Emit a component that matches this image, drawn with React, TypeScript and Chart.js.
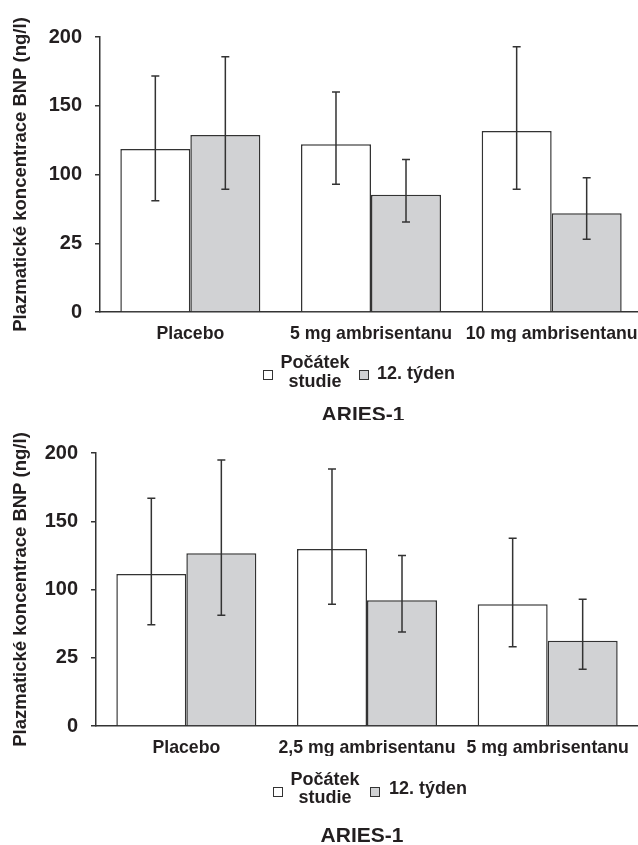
import React, { useEffect, useRef } from 'react';
import { Chart, registerables } from 'chart.js';

Chart.register(...registerables);

// ---- shared labels ----
const yTickValues = [0, 50, 100, 150, 200];
const yTickLabels = ['0', '25', '100', '150', '200'];
const yTitle = 'Plazmatické koncentrace BNP (ng/l)';
const seriesBaselineLabel = ['Počátek', 'studie'];
const seriesWeek12Label = '12. týden';
const panelTitle = 'ARIES-1';

// ---- panel 1 ----
const categories1 = ['Placebo', '5 mg ambrisentanu', '10 mg ambrisentanu'];
const baseline1 = [118.5, 122, 131.6];
const week12_1 = [128.7, 85.3, 71.8];
const baselineHi1 = [171.6, 160, 193];
const baselineLo1 = [81, 93, 89.2];
const week12Hi1 = [185.7, 111, 97.7];
const week12Lo1 = [89.2, 65.5, 53];

// ---- panel 2 ----
const categories2 = ['Placebo', '2,5 mg ambrisentanu', '5 mg ambrisentanu'];
const baseline2 = [111.4, 129.7, 89.2];
const week12_2 = [126.6, 92.2, 62.4];
const baselineHi2 = [166.8, 188.2, 137.5];
const baselineLo2 = [74.1, 89.2, 58];
const week12Hi2 = [194.8, 124.9, 92.9];
const week12Lo2 = [81.2, 68.8, 41.5];

const FONT = '"Liberation Sans", Arial, Helvetica, sans-serif';
const INK = '#231f20';
const LINE = '#333333';
const GRAY = '#d1d2d4';

type PanelProps = {
  top: number;
  height: number;
  axisLeft: number;
  areaTop: number;
  areaBottom: number;
  padRight: number;
  categories: string[];
  base: number[];
  week: number[];
  baseHi: number[];
  baseLo: number[];
  weekHi: number[];
  weekLo: number[];
  legend: { box1X: number; text1X: number; box2X: number; text2X: number; line1Y: number; line2Y: number; boxY: number; text2Y: number; titleX: number; titleY: number };
};

function Panel(p: PanelProps) {
  const ref = useRef<HTMLCanvasElement | null>(null);
  useEffect(() => {
    const canvas = ref.current!;
    const his = [p.baseHi, p.weekHi];
    const los = [p.baseLo, p.weekLo];
    const errorBars = {
      id: 'errorBars',
      afterDatasetsDraw(chart: any) {
        const ctx = chart.ctx;
        const ys = chart.scales.y;
        ctx.save();
        ctx.strokeStyle = LINE;
        ctx.lineWidth = 1.5;
        chart.data.datasets.forEach((_: any, i: number) => {
          const meta = chart.getDatasetMeta(i);
          meta.data.forEach((el: any, j: number) => {
            const x = el.x;
            const yh = ys.getPixelForValue(his[i][j]);
            const yl = ys.getPixelForValue(los[i][j]);
            ctx.beginPath();
            ctx.moveTo(x, yh);
            ctx.lineTo(x, yl);
            ctx.moveTo(x - 4, yh);
            ctx.lineTo(x + 4, yh);
            ctx.moveTo(x - 4, yl);
            ctx.lineTo(x + 4, yl);
            ctx.stroke();
          });
        });
        ctx.restore();
      },
    };
    const L = p.legend;
    const legendTitle = {
      id: 'legendTitle',
      afterDraw(chart: any) {
        const ctx = chart.ctx;
        ctx.save();
        ctx.fillStyle = INK;
        ctx.textBaseline = 'middle';
        ctx.font = `bold 18px ${FONT}`;
        ctx.textAlign = 'center';
        ctx.fillText(seriesBaselineLabel[0], L.text1X, L.line1Y);
        ctx.fillText(seriesBaselineLabel[1], L.text1X, L.line2Y);
        ctx.textAlign = 'left';
        ctx.fillText(seriesWeek12Label, L.text2X, L.text2Y);
        ctx.lineWidth = 1;
        ctx.strokeStyle = LINE;
        ctx.fillStyle = '#ffffff';
        ctx.fillRect(L.box1X, L.boxY - 4.5, 9, 9);
        ctx.strokeRect(L.box1X + 0.5, L.boxY - 4.5, 9, 9);
        ctx.fillStyle = GRAY;
        ctx.fillRect(L.box2X, L.boxY - 4.5, 9, 9);
        ctx.strokeRect(L.box2X + 0.5, L.boxY - 4.5, 9, 9);
        ctx.fillStyle = INK;
        ctx.font = `bold 21px ${FONT}`;
        ctx.textAlign = 'center';
        ctx.fillText(panelTitle, L.titleX, L.titleY);
        ctx.restore();
      },
    };
    const chart = new Chart(canvas, {
      type: 'bar',
      data: {
        labels: p.categories,
        datasets: [
          {
            label: seriesBaselineLabel.join(' '),
            data: p.base,
            backgroundColor: '#ffffff',
            borderColor: LINE,
            borderWidth: 1.5,
            categoryPercentage: 0.775,
            barPercentage: 1,
          },
          {
            label: seriesWeek12Label,
            data: p.week,
            backgroundColor: GRAY,
            borderColor: LINE,
            borderWidth: 1.5,
            categoryPercentage: 0.775,
            barPercentage: 1,
          },
        ],
      },
      options: {
        animation: false,
        responsive: false,
        devicePixelRatio: 1,
        layout: {
          padding: { top: p.areaTop, left: 0, right: p.padRight, bottom: p.height - p.areaBottom - 30 },
        },
        plugins: {
          legend: { display: false },
          title: { display: false },
          tooltip: { enabled: false },
        },
        scales: {
          x: {
            grid: { display: false, drawTicks: false },
            border: { display: true, color: LINE, width: 1.5 },
            ticks: {
              color: INK,
              font: { family: FONT, size: 17.7, weight: 'bold' },
              padding: 11,
              maxRotation: 0,
              autoSkip: false,
            },
            afterFit: (s: any) => {
              s.height = 30;
              s.paddingLeft = 0;
              s.paddingRight = 0;
            },
          },
          y: {
            min: 0,
            max: 200,
            afterBuildTicks: (s: any) => {
              s.ticks = yTickValues.map((v) => ({ value: v }));
            },
            grid: { drawOnChartArea: false, drawTicks: true, tickLength: 5, color: LINE, lineWidth: 1.5 },
            border: { display: true, color: LINE, width: 1.5 },
            ticks: {
              color: INK,
              font: { family: FONT, size: 20, weight: 'bold' },
              padding: 13,
              callback: (_v: any, i: number) => yTickLabels[i],
            },
            title: {
              display: true,
              text: yTitle,
              color: INK,
              font: { family: FONT, size: 18.5, weight: 'bold' },
              padding: { top: 10, bottom: 0 },
            },
            afterFit: (s: any) => {
              s.width = p.axisLeft;
            },
          },
        },
      },
      plugins: [errorBars, legendTitle],
    });
    return () => chart.destroy();
  }, []);
  return (
    <div style={{ position: 'absolute', left: 0, top: p.top, width: 638, height: p.height, overflow: 'hidden' }}>
      <canvas ref={ref} width={644} height={p.height} style={{ display: 'block', width: 644, height: p.height }} />
    </div>
  );
}

export default function App() {
  return (
    <div style={{ position: 'absolute', left: 0, top: 0, width: 638, height: 845, overflow: 'hidden', background: '#fff' }}>
      <Panel
        top={0}
        height={420}
        axisLeft={100}
        areaTop={37}
        areaBottom={312}
        padRight={2}
        categories={categories1}
        base={baseline1}
        week={week12_1}
        baseHi={baselineHi1}
        baseLo={baselineLo1}
        weekHi={week12Hi1}
        weekLo={week12Lo1}
        legend={{ box1X: 263, text1X: 315, box2X: 359, text2X: 377, line1Y: 363, line2Y: 382, boxY: 375, text2Y: 374, titleX: 363, titleY: 415 }}
      />
      <Panel
        top={420}
        height={425}
        axisLeft={96}
        areaTop={33}
        areaBottom={306}
        padRight={6}
        categories={categories2}
        base={baseline2}
        week={week12_2}
        baseHi={baselineHi2}
        baseLo={baselineLo2}
        weekHi={week12Hi2}
        weekLo={week12Lo2}
        legend={{ box1X: 273, text1X: 325, box2X: 370, text2X: 389, line1Y: 360, line2Y: 378, boxY: 372, text2Y: 369, titleX: 362, titleY: 416 }}
      />
    </div>
  );
}
